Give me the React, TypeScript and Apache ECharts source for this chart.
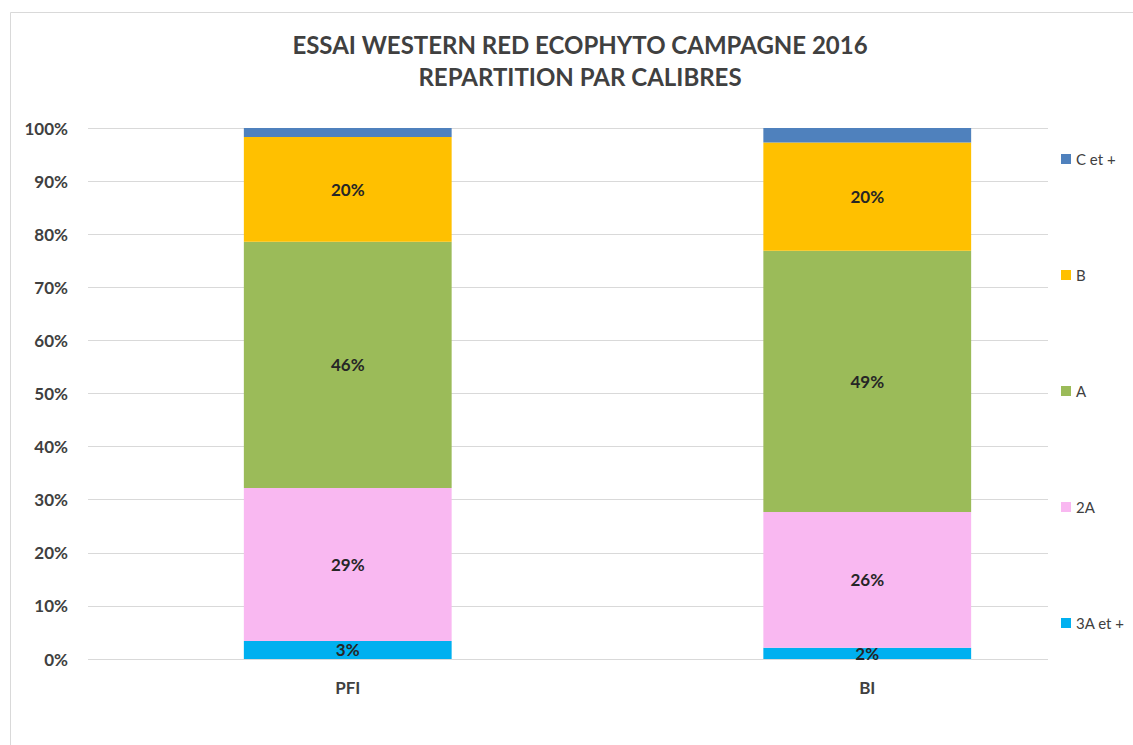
import React, { useEffect, useRef } from "react";
import * as echarts from "echarts";

const categories = ["PFI", "BI"];
const seriesNames = ["3A et +", "2A", "A", "B", "C et +"];
const legendOrder = ["C et +", "B", "A", "2A", "3A et +"];
const values3A = [3.4, 2.1];
const values2A = [28.8, 25.6];
const valuesA = [46.4, 49.2];
const valuesB = [19.7, 20.35];
const valuesC = [1.7, 2.75];
const colors = ["#00B0F0", "#F9B8F1", "#9BBB59", "#FFC000", "#4F81BD"];
const showLabel = [true, true, true, true, false];
const yTicks = [0, 10, 20, 30, 40, 50, 60, 70, 80, 90, 100];

const FONT = "Lato, 'Open Sans', sans-serif";

export default function App() {
  const ref = useRef<HTMLDivElement>(null);
  useEffect(() => {
    document.body.style.margin = "0";
    if (!ref.current) return;
    const chart = echarts.init(ref.current, null, { renderer: "svg" });
    const data = [values3A, values2A, valuesA, valuesB, valuesC];
    const option: any = {
      animation: false,
      backgroundColor: "#ffffff",
      textStyle: { fontFamily: FONT },
      title: {
        text: "ESSAI WESTERN RED ECOPHYTO CAMPAGNE 2016\nREPARTITION PAR CALIBRES",
        left: 575,
        top: 23,
        textAlign: "center",
        textStyle: {
          fontFamily: FONT,
          fontSize: 24,
          fontWeight: "bold",
          color: "#404040",
          lineHeight: 32,
        },
      },
      graphic: [
        {
          type: "rect",
          shape: { x: 10.5, y: 12.5, width: 1200, height: 800 },
          style: { fill: "none", stroke: "#d9d9d9", lineWidth: 1 },
          silent: true,
          z: -1,
        },
      ],
      legend: {
        data: legendOrder,
        orient: "vertical",
        left: 1056,
        top: 146,
        itemWidth: 10,
        itemHeight: 10,
        itemGap: 100,
        icon: "rect",
        textStyle: {
          fontFamily: FONT,
          fontSize: 15,
          color: "#404040",
          lineHeight: 16,
        },
      },
      grid: [
        { left: 88, top: 128, width: 960, height: 531 },
        { left: 88, top: 128, width: 1039, height: 531 },
      ],
      xAxis: [
        { type: "value", gridIndex: 0, min: 0, max: 1, show: false },
        {
          type: "category",
          gridIndex: 1,
          data: categories,
          axisLine: { show: false },
          axisTick: { show: false },
          axisLabel: {
            margin: 20,
            fontFamily: FONT,
            fontSize: 17,
            fontWeight: "bold",
            color: "#404040",
          },
        },
      ],
      yAxis: [
        {
          type: "value",
          gridIndex: 0,
          min: yTicks[0],
          max: yTicks[yTicks.length - 1],
          interval: 10,
          axisLine: { show: false },
          axisTick: { show: false },
          splitLine: { lineStyle: { color: "#d9d9d9", width: 1 } },
          axisLabel: {
            formatter: "{value}%",
            margin: 20,
            fontFamily: FONT,
            fontSize: 17,
            fontWeight: "bold",
            color: "#404040",
          },
        },
        {
          type: "value",
          gridIndex: 1,
          min: 0,
          max: 100,
          show: false,
        },
      ],
      series: seriesNames.map((name, i) => ({
        name,
        type: "bar",
        stack: "total",
        xAxisIndex: 1,
        yAxisIndex: 1,
        barWidth: "40%",
        data: data[i],
        itemStyle: { color: colors[i] },
        label: {
          show: showLabel[i],
          position: "inside",
          formatter: (p: any) => Math.round(p.value) + "%",
          fontFamily: FONT,
          fontSize: 17,
          fontWeight: "bold",
          color: "#262626",
        },
      })),
    };
    chart.setOption(option);
    return () => chart.dispose();
  }, []);
  return <div ref={ref} style={{ width: 1133, height: 745 }} />;
}
